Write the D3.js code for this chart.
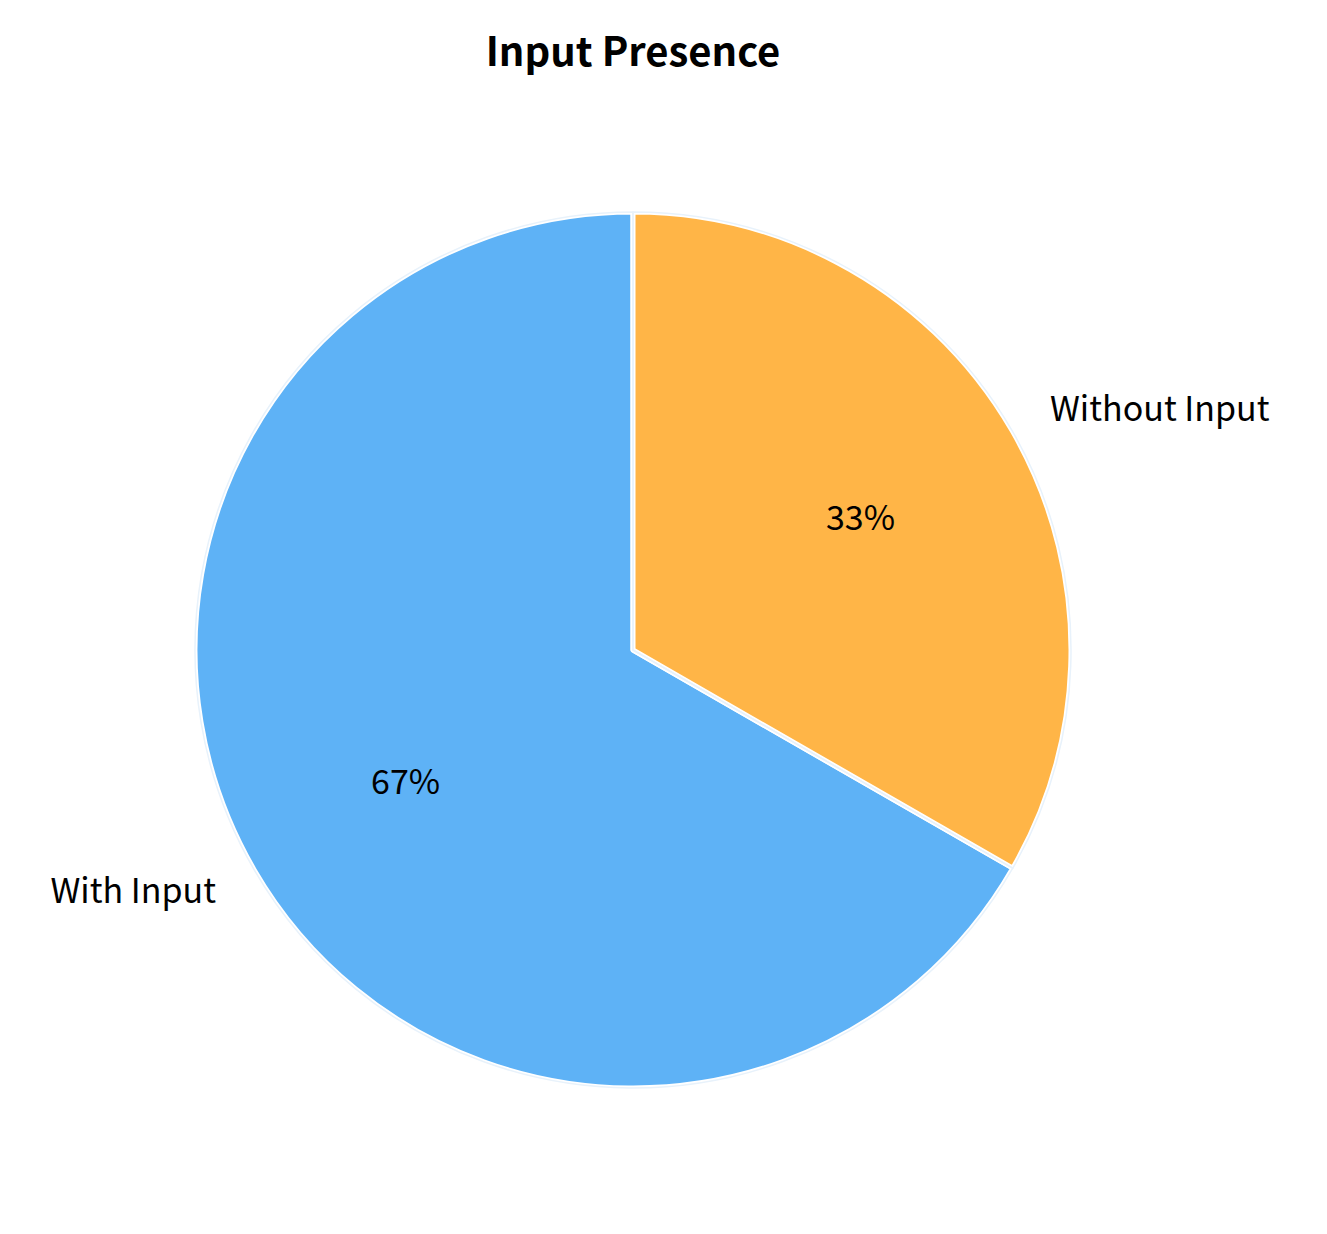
<!DOCTYPE html>
<html><head><meta charset="utf-8">
<script src="https://cdn.jsdelivr.net/npm/d3@7"></script>
<style>body{margin:0;background:#fff}</style></head>
<body><svg id="c" width="1327" height="1234"></svg>
<script>
const categories = ["With Input", "Without Input"];
const values = [66.7, 33.3];
const colors = ["#5EB2F6", "#FFB547"];
const title = "Input Presence";

const svg = d3.select("#c");
const font = "'Noto Sans CJK JP','Noto Sans',sans-serif";
const cx = 633, cy = 650, r = 438;
svg.append("text").attr("x", 633).attr("y", 66).attr("text-anchor", "middle")
  .attr("font-family", font).attr("font-weight", "bold").attr("font-size", 40).text(title);

const total = d3.sum(values);
const pie = d3.pie().sort(null).startAngle(0).endAngle(-2 * Math.PI);
const arcs = pie(values);
const arc = d3.arc().innerRadius(0).outerRadius(r);
const g = svg.append("g").attr("transform", `translate(${cx},${cy})`);
g.selectAll("path").data(arcs).join("path").attr("d", arc)
  .attr("fill", (d, i) => colors[i]).attr("stroke", "#fff").attr("stroke-width", 5)
  .attr("stroke-linejoin", "round");
g.selectAll("path.o").data(arcs).join("path").attr("d", arc).attr("fill", "none")
  .attr("stroke", "#e8f2fb").attr("stroke-width", 1.5);
arcs.forEach((d, i) => {
  const a = (d.startAngle + d.endAngle) / 2;
  const sx = Math.sin(a), sy = -Math.cos(a);
  g.append("text").attr("x", sx * r * 0.6).attr("y", sy * r * 0.6).attr("dy", "0.35em")
    .attr("text-anchor", "middle").attr("font-family", font).attr("font-size", 34)
    .text(Math.round(values[i] / total * 100) + "%");
  g.append("text").attr("x", sx * r * 1.1).attr("y", sy * r * 1.1).attr("dy", "0.35em")
    .attr("text-anchor", sx > 0 ? "start" : "end").attr("font-family", font).attr("font-size", 34)
    .text(categories[i]);
});
</script></body></html>
